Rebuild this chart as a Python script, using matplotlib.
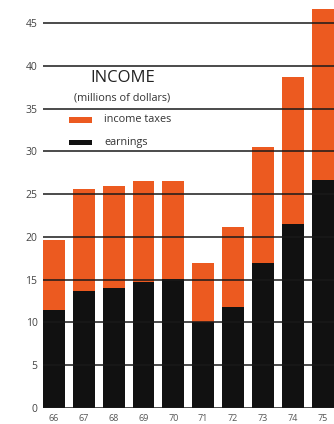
import matplotlib
matplotlib.use("Agg")
import matplotlib.pyplot as plt
from matplotlib.patches import Rectangle

years = ["66", "67", "68", "69", "70", "71", "72", "73", "74", "75"]
earnings = [11.4, 13.7, 14.0, 14.7, 15.1, 10.1, 11.8, 16.9, 21.5, 26.7]
income_taxes = [8.2, 11.9, 11.9, 11.8, 11.4, 6.8, 9.4, 13.6, 17.2, 20.0]
y_ticks = [0, 5, 10, 15, 20, 25, 30, 35, 40, 45]

ORANGE = "#EC5A20"
BLACK = "#111111"

plt.rcParams["font.family"] = ["Open Sans", "DejaVu Sans"]

fig = plt.figure(figsize=(3.34, 4.24), dpi=100)
ax = fig.add_axes([43 / 334, 16 / 424, 1 - 43 / 334, 1 - 16 / 424])

x = list(range(len(years)))
ax.bar(x, earnings, width=0.73, color=BLACK, zorder=2)
ax.bar(x, income_taxes, width=0.73, bottom=earnings, color=ORANGE, zorder=2)

for t in y_ticks:
    ax.axhline(t, color="#1a1a1a", lw=1.1, zorder=3)

ax.set_xlim(-0.365, 9.38)
ax.set_ylim(0, 47.7)
for s in ax.spines.values():
    s.set_visible(False)

ax.set_yticks(y_ticks)
ax.set_yticklabels([str(t) for t in y_ticks], fontsize=7.5, color="#444444")
ax.set_xticks(x)
ax.set_xticklabels(years, fontsize=6.5, color="#555555")
ax.tick_params(axis="both", length=0)
ax.tick_params(axis="y", pad=4)
ax.tick_params(axis="x", pad=4)

# title and legend block
fig.text(123 / 334, 1 - 78 / 424, "INCOME", ha="center", va="center",
         fontsize=12, color="#222222")
fig.text(122 / 334, 1 - 98 / 424, "(millions of dollars)", ha="center",
         va="center", fontsize=7.8, color="#333333")
for yy, col, label in [(120, ORANGE, "income taxes"), (142, BLACK, "earnings")]:
    fig.patches.append(Rectangle((69 / 334, 1 - (yy + 2.5) / 424), 23 / 334,
                                 5 / 424, transform=fig.transFigure,
                                 facecolor=col, edgecolor="none", zorder=5))
    fig.text(104 / 334, 1 - yy / 424, label, ha="left", va="center",
             fontsize=7.8, color="#333333")

fig.savefig("out.png", dpi=100)
